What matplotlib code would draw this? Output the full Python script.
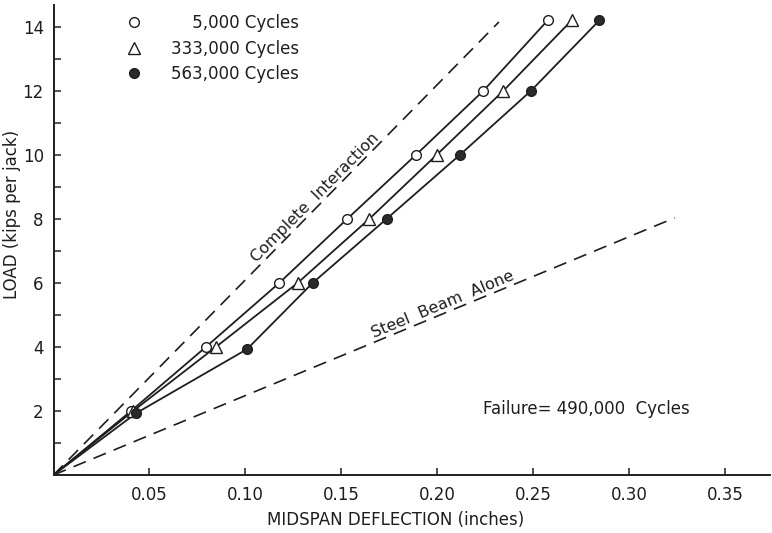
import matplotlib.pyplot as plt
from matplotlib.ticker import FixedLocator

plt.rcParams["font.family"] = "DejaVu Sans"

# Load in kips per jack and midspan deflection in inches for each test stage
load = [2, 4, 6, 8, 10, 12, 14.2]
defl_5k = [0.0404, 0.0794, 0.1176, 0.1530, 0.1888, 0.2239, 0.2574]
defl_333k = [0.0415, 0.0846, 0.1272, 0.1645, 0.1996, 0.2343, 0.2699]
defl_563k = [0.0430, 0.1008, 0.1350, 0.1735, 0.2117, 0.2487, 0.2843]
load_563k = [1.93, 3.93, 6, 8, 10, 12, 14.2]

# Theoretical lines (deflection, load)
complete_x = [0.0, 0.2320]
complete_y = [0.0, 14.15]
steel_x = [0.0, 0.3235]
steel_y = [0.0, 8.03]

series = [
    ("\u2007\u20075,000 Cycles", defl_5k, load, "o", "white"),
    ("333,000 Cycles", defl_333k, load, "^", "white"),
    ("563,000 Cycles", defl_563k, load_563k, "o", "#2a2a2a"),
]

ink = "#1e1e1e"

fig = plt.figure(figsize=(7.72, 5.33), dpi=100)
ax = fig.add_axes([53.5 / 772, 58 / 533, (770 - 53.5) / 772, (528 - 58) / 533])

for name, xs, ys, mk, fc in series:
    ax.plot([0] + xs, [0] + ys, "-", color=ink, lw=1.3, zorder=2)
    ax.plot(xs, ys, mk, ls="none", ms=7 if mk == "o" else 8, mfc=fc, mec=ink,
            mew=1.0, label=name, zorder=3)

ax.plot(complete_x, complete_y, color=ink, lw=1.2, dashes=(8, 5), zorder=1)
ax.plot(steel_x, steel_y, color=ink, lw=1.2, dashes=(8, 5), zorder=1)

ax.set_xlim(0, 0.3732)
ax.set_ylim(0, 14.68)

# Labels along the dashed lines
ax.text(0.1380, 8.55, "Complete  Interaction", rotation=45.3, rotation_mode="anchor",
        ha="center", va="baseline", fontsize=11.5, color=ink)
ax.text(0.2035, 5.20, "Steel  Beam  Alone", rotation=22.6, rotation_mode="anchor",
        ha="center", va="baseline", fontsize=11.5, color=ink)

ax.text(0.2774, 2.06, "Failure= 490,000  Cycles", ha="center", va="center",
        fontsize=12, color=ink)

ax.xaxis.set_major_locator(FixedLocator([0.05, 0.10, 0.15, 0.20, 0.25, 0.30, 0.35]))
ax.set_xticklabels(["0.05", "0.10", "0.15", "0.20", "0.25", "0.30", "0.35"])
ax.yaxis.set_major_locator(FixedLocator([2, 4, 6, 8, 10, 12, 14]))
ax.yaxis.set_minor_locator(FixedLocator([1, 3, 5, 7, 9, 11, 13]))

ax.tick_params(axis="both", which="major", direction="in", length=5, width=1.1,
               colors=ink, labelsize=12)
ax.tick_params(axis="x", pad=8)
ax.tick_params(axis="y", pad=7)
ax.tick_params(axis="y", which="minor", direction="in", length=5, width=1.1, colors=ink)

for side in ["top", "right"]:
    ax.spines[side].set_visible(False)
for side in ["left", "bottom"]:
    ax.spines[side].set_linewidth(1.4)
    ax.spines[side].set_color(ink)

ax.set_xlabel("MIDSPAN DEFLECTION (inches)", fontsize=12, color=ink)
ax.set_ylabel("LOAD (kips per jack)", fontsize=12, color=ink)
ax.xaxis.set_label_coords((395.5 - 53.5) / (770 - 53.5), -(511 - 475) / 470)
ax.yaxis.set_label_coords(-(53.5 - 21) / 716.5, (475 - 214.5) / 470)

ax.legend(loc="upper left", bbox_to_anchor=(0.085, 1.005), frameon=False,
          fontsize=12, handlelength=1.0, handletextpad=1.72, labelspacing=0.45,
          borderpad=0.2, labelcolor=ink)

fig.savefig("out.png", dpi=100)
